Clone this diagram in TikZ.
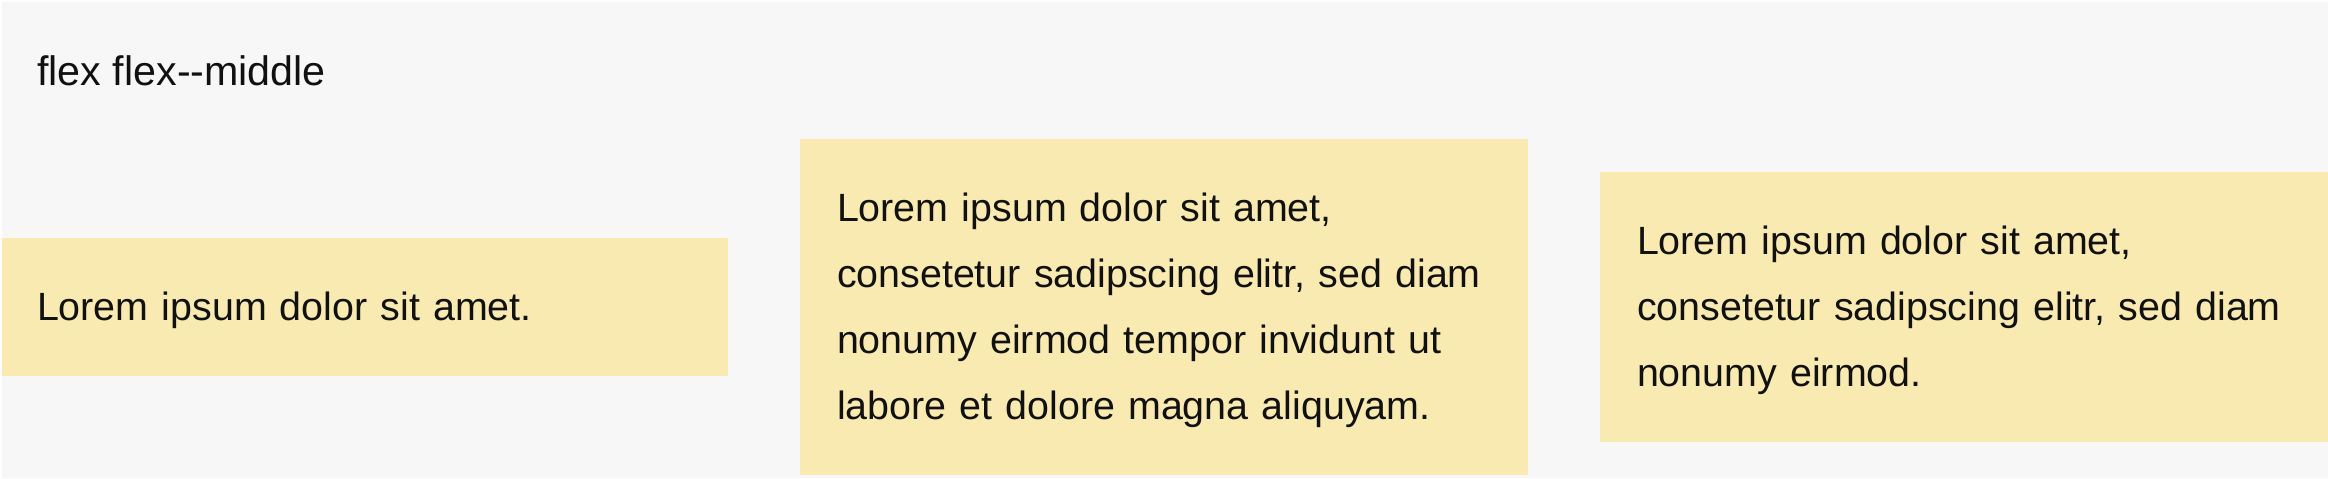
\documentclass[tikz,border=0pt]{standalone}
\usepackage{fontspec}
\setmainfont{Liberation Sans}
\usetikzlibrary{positioning}
\definecolor{pagegray}{RGB}{247,247,247}
\definecolor{itemyellow}{RGB}{248,234,176}
\definecolor{inktext}{RGB}{17,17,17}

\begin{document}
\begin{tikzpicture}[x=0.5pt,y=-0.5pt,
  cell/.style={fill=itemyellow, text=inktext, align=left, text width=327pt,
    inner xsep=18.5pt, inner ysep=0pt, outer sep=0pt, font=\fontsize{19.7pt}{33pt}\selectfont,
    execute at begin node=\strut, execute at end node=\strut},
  caption/.style={text=inktext, anchor=base west, inner sep=0pt, font=\fontsize{20.6pt}{24pt}\selectfont}]
\useasboundingbox (0,0) rectangle (2328,478);

%Shape: Rectangle [page]
\fill[white] (0,0) rectangle (2328,478);
\fill[pagegray] (2,2) rectangle (2328,478);

% Text Node
\node[caption] (title) at (37,85) {flex flex-{}-middle};

%Shape: Rectangle [items]
\node[cell, anchor=west, text width=328pt, inner xsep=17.5pt, minimum height=69pt] (single) at (2,307)
  {Lorem ipsum dolor sit amet.};
\node[cell, minimum height=168pt, right=36pt of single] (quad)
  {Lorem ipsum dolor sit amet,\\ consetetur sadipscing elitr, sed diam\\ nonumy eirmod tempor invidunt ut\\ labore et dolore magna aliquyam.};
\node[cell, minimum height=135pt, right=36pt of quad] (triple)
  {Lorem ipsum dolor sit amet,\\ consetetur sadipscing elitr, sed diam\\ nonumy eirmod.};

\end{tikzpicture}
\end{document}
